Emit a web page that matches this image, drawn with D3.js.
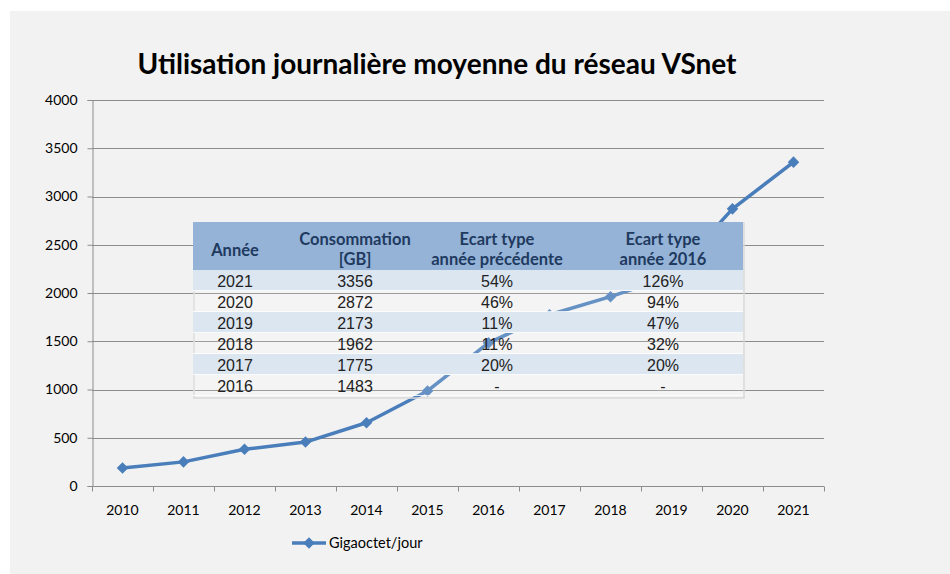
<!DOCTYPE html>
<html>
<head>
<meta charset="utf-8">
<script src="https://cdn.jsdelivr.net/npm/d3@7"></script>
<style>
  body { margin: 0; background: #ffffff; }
  svg { display: block; }
</style>
</head>
<body>
<div id="chart"></div>
<script>
// Data
let years = ["2010", "2011", "2012", "2013", "2014", "2015", "2016", "2017", "2018", "2019", "2020", "2021"];
let usage = [186, 250, 380, 455, 655, 985, 1483, 1775, 1962, 2173, 2872, 3356];
let yTicks = [0, 500, 1000, 1500, 2000, 2500, 3000, 3500, 4000];

let tableHeader = [["Année"], ["Consommation", "[GB]"], ["Ecart type", "année précédente"], ["Ecart type", "année 2016"]];
let tableYears = ["2021", "2020", "2019", "2018", "2017", "2016"];
let tableConso = ["3356", "2872", "2173", "1962", "1775", "1483"];
let tablePrev = ["54%", "46%", "11%", "11%", "20%", "-"];
let table2016 = ["126%", "94%", "47%", "32%", "20%", "-"];

let lineColor = "#4a7ebb";
let calibri = "Lato, 'Open Sans', sans-serif";
let arial = "'Liberation Sans', Arial, sans-serif";

let svg = d3.select("#chart").append("svg")
    .attr("width", 950)
    .attr("height", 574);

// chart background
svg.append("rect")
    .attr("x", 10).attr("y", 11)
    .attr("width", 940).attr("height", 563)
    .attr("fill", "#f2f2f2");

// title
svg.append("text")
    .attr("x", 437).attr("y", 74)
    .attr("text-anchor", "middle")
    .style("font-family", calibri)
    .style("font-weight", "bold")
    .style("font-size", "28px")
    .style("fill", "#000")
    .text("Utilisation journalière moyenne du réseau VSnet");

let margin = { left: 92, right: 824, top: 100, bottom: 486 };

let x = d3.scaleBand()
    .domain(years)
    .range([margin.left, margin.right]);

let y = d3.scaleLinear()
    .domain([0, 4000])
    .range([margin.bottom, margin.top]);

// gridlines
svg.append("g")
    .selectAll("line")
    .data(yTicks.filter(d => d > 0))
    .join("line")
    .attr("x1", margin.left)
    .attr("x2", margin.right)
    .attr("y1", d => Math.round(y(d)) + 0.5)
    .attr("y2", d => Math.round(y(d)) + 0.5)
    .attr("stroke", "#8c8c8c")
    .attr("stroke-width", 1);

// y axis
let yAxis = svg.append("g")
    .attr("transform", `translate(${margin.left + 0.5},0)`)
    .call(d3.axisLeft(y).tickValues(yTicks).tickSize(5).tickPadding(10).tickFormat(d3.format("d")));
yAxis.select(".domain").attr("stroke", "#8c8c8c");
yAxis.selectAll(".tick line").attr("stroke", "#8c8c8c");
yAxis.selectAll(".tick text")
    .style("font-family", calibri)
    .style("font-size", "14px")
    .style("fill", "#000");

// x axis, ticks between categories
let xAxis = svg.append("g")
    .attr("transform", `translate(0,${Math.round(margin.bottom) + 0.5})`);
xAxis.append("line")
    .attr("x1", margin.left).attr("x2", margin.right)
    .attr("stroke", "#8c8c8c");
xAxis.selectAll(".xtick")
    .data(years.concat(["end"]))
    .join("line")
    .attr("x1", (d, i) => Math.round(margin.left + i * x.bandwidth()) + 0.5)
    .attr("x2", (d, i) => Math.round(margin.left + i * x.bandwidth()) + 0.5)
    .attr("y1", 0).attr("y2", 5)
    .attr("stroke", "#8c8c8c");
xAxis.selectAll(".xlabel")
    .data(years)
    .join("text")
    .attr("x", d => x(d) + x.bandwidth() / 2)
    .attr("y", 28)
    .attr("text-anchor", "middle")
    .style("font-family", calibri)
    .style("font-size", "14px")
    .style("fill", "#000")
    .text(d => d);

// line
let line = d3.line()
    .x((d, i) => x(years[i]) + x.bandwidth() / 2)
    .y(d => y(d));

svg.append("path")
    .datum(usage)
    .attr("d", line)
    .attr("fill", "none")
    .attr("stroke", lineColor)
    .attr("stroke-width", 3.5)
    .attr("stroke-linejoin", "round");

let diamond = d3.symbol().type(d3.symbolDiamond2).size(85);
svg.append("g")
    .selectAll("path")
    .data(usage)
    .join("path")
    .attr("d", diamond)
    .attr("transform", (d, i) => `translate(${x(years[i]) + x.bandwidth() / 2},${y(d)})`)
    .attr("fill", lineColor);

// overlay table
let table = svg.append("g");
let tx = 193, tw = 550, headH = 48, rowH = 21, ty = 222;
let colCenters = [235, 355, 497, 663];

table.append("rect")
    .attr("x", tx + 1).attr("y", ty + 1)
    .attr("width", tw).attr("height", headH + rowH * tableYears.length + 1)
    .attr("fill", "none")
    .attr("stroke", "#d9d9d9")
    .attr("stroke-width", 1.5);

table.append("rect")
    .attr("x", tx).attr("y", ty)
    .attr("width", tw).attr("height", headH)
    .attr("fill", "#95b3d7");

tableYears.forEach((yr, i) => {
    table.append("rect")
        .attr("x", tx)
        .attr("y", ty + headH + i * rowH)
        .attr("width", tw)
        .attr("height", rowH)
        .attr("fill", i % 2 === 0 ? "#dce6f1" : "#ffffff")
        .attr("fill-opacity", i % 2 === 0 ? 1 : 0.15);
    table.append("line")
        .attr("x1", tx).attr("x2", tx + tw)
        .attr("y1", ty + headH + (i + 1) * rowH - 0.5)
        .attr("y2", ty + headH + (i + 1) * rowH - 0.5)
        .attr("stroke", "#ffffff")
        .attr("stroke-width", 1)
        .attr("stroke-opacity", 0.8);
});

tableHeader.forEach((lines, c) => {
    let t = table.append("text")
        .attr("text-anchor", "middle")
        .style("font-family", calibri)
        .style("font-weight", "bold")
        .style("font-size", "16.5px")
        .style("fill", "#1f3a5f");
    if (lines.length === 1) {
        t.append("tspan").attr("x", colCenters[c]).attr("y", ty + 34).text(lines[0]);
    } else {
        lines.forEach((l, k) => {
            t.append("tspan").attr("x", colCenters[c]).attr("y", ty + 23 + k * 20).text(l);
        });
    }
});

let tableCols = [tableYears, tableConso, tablePrev, table2016];
tableCols.forEach((col, c) => {
    table.selectAll(null)
        .data(col)
        .join("text")
        .attr("x", colCenters[c])
        .attr("y", (d, i) => ty + headH + i * rowH + 16.5)
        .attr("text-anchor", "middle")
        .style("font-family", arial)
        .style("font-size", "16px")
        .style("fill", "#222")
        .text(d => d);
});

// legend
let legend = svg.append("g").attr("transform", "translate(292,543)");
legend.append("line")
    .attr("x1", 0).attr("x2", 34)
    .attr("stroke", lineColor)
    .attr("stroke-width", 3.5);
legend.append("path")
    .attr("d", diamond)
    .attr("transform", "translate(17,0)")
    .attr("fill", lineColor);
legend.append("text")
    .attr("x", 37).attr("y", 5)
    .style("font-family", calibri)
    .style("font-size", "14.5px")
    .style("fill", "#000")
    .text("Gigaoctet/jour");
</script>
</body>
</html>
